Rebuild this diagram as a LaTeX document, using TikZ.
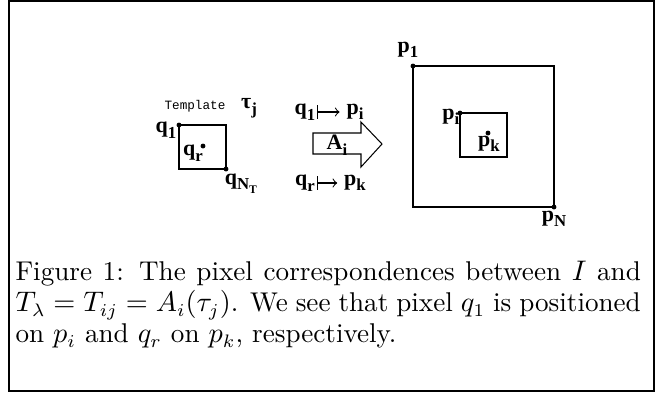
\documentclass[tikz,border=0pt]{standalone}
\usepackage{fontspec}
\usepackage{tikz}
\usetikzlibrary{arrows}
\newfontfamily\figfont{Liberation Serif}
\newfontfamily\figmono{Liberation Mono}
\newcommand{\lbl}[2]{{\figfont\bfseries #1\raisebox{-0.55ex}{\fontsize{6.5}{7}\selectfont #2}}}
\newcommand{\lblsub}[2]{{\figfont\bfseries #1\raisebox{-0.4ex}{\fontsize{4.5}{5}\selectfont #2}}}

\begin{document}
\begin{tikzpicture}[x=0.387pt,y=-0.387pt,
    pt/.style={circle,fill=black,inner sep=0pt,minimum size=1.9pt},
    lab/.style={inner sep=0.5pt,font=\fontsize{8.5}{9}\selectfont}]
    \useasboundingbox (0,0) rectangle (661,394);
    \draw[line width=0.77pt] (9,1) rectangle (654,391);

    % template
    \draw[line width=0.4pt] (179,125) rectangle (226,169);
    \node[pt] (q1) at (179,125) {};
    \node[pt] (qN) at (226,169) {};
    \node[pt] (qr) at (203,146) {};
    \node[lab,anchor=east] at (178,130) {\lbl{q}{1}};
    \node[lab] at (193,153) {\lbl{q}{r}};
    \node[lab,anchor=north west] at (223,172) {\lbl{q}{\lblsub{N}{T}}};
    \node[inner sep=0pt,font=\fontsize{4.9}{5}\selectfont\figmono] (tpl) at (195,106) {Template};
    \node[lab] (tau) at (249,108) {\lbl{τ}{j}};

    % mapping
    \node[lab] (q1m) at (305,112) {\lbl{q}{1}};
    \node[lab] (pim) at (355,112) {\lbl{p}{i}};
    \node[lab] (qrm) at (305,183) {\lbl{q}{r}};
    \node[lab] (pkm) at (355,183) {\lbl{p}{k}};
    \draw[|->,line width=0.4pt,shorten >=2pt] (q1m) -- (pim);
    \draw[|->,line width=0.4pt,shorten >=2pt] (qrm) -- (pkm);
    \draw[line width=0.4pt] (313,133) -- (361,133) -- (361,122) -- (382,144)
        -- (361,167) -- (361,154) -- (313,154) -- cycle;
    \node[lab] (Ai) at (337,145) {\lbl{A}{i}};

    % image
    \draw[line width=0.4pt] (413,66) rectangle (554,207);
    \draw[line width=0.4pt] (460,113) rectangle (507,157);
    \node[pt] (p1) at (413,66) {};
    \node[pt] (pN) at (554,207) {};
    \node[pt] (pi) at (460,113) {};
    \node[pt] (pk) at (488,133) {};
    \node[lab] at (408,50) {\lbl{p}{1}};
    \node[lab,anchor=east] at (461,117) {\lbl{p}{i}};
    \node[lab] at (489,144) {\lbl{p}{k}};
    \node[lab] at (554,219) {\lbl{p}{N}};

    % caption
    \node[anchor=north west,inner sep=0pt,text width=242pt,align=justify,
        font=\fontsize{10.5}{12}\selectfont] (cap) at (15,261)
        {Figure 1: The pixel correspondences between $I$ and
        $T_\lambda = T_{ij} = A_i(\tau_j)$. We see that pixel $q_1$ is positioned
        on $p_i$ and $q_r$ on $p_k$, respectively.};
\end{tikzpicture}
\end{document}
